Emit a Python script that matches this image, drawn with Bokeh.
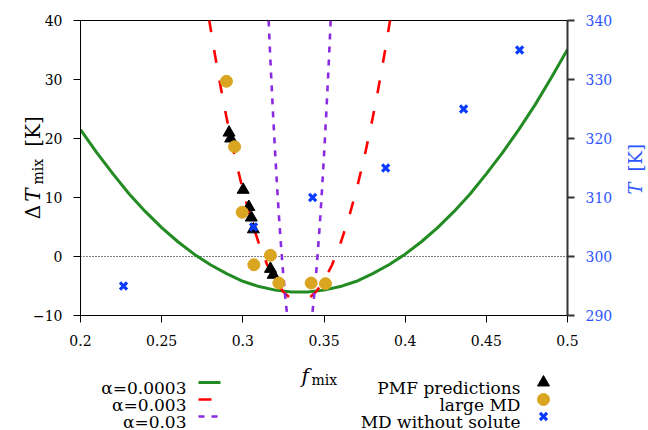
from math import pi
from bokeh.plotting import figure
from bokeh.models import Range1d, LinearAxis, Span, FixedTicker, NumeralTickFormatter
from bokeh.layouts import column, row
from bokeh.embed import file_html
from bokeh.resources import INLINE
from bokeh.core.properties import value

# ---------------- data ----------------
x_ticks = [0.2, 0.25, 0.3, 0.35, 0.4, 0.45, 0.5]
y_ticks = [-10, 0, 10, 20, 30, 40]
t_ticks = [290, 300, 310, 320, 330, 340]

# alpha = 0.0003 (green, solid)
f_a1 = [0.20, 0.21, 0.22, 0.23, 0.24, 0.25, 0.26, 0.27, 0.28, 0.29, 0.30, 0.31, 0.32, 0.33,
        0.34, 0.35, 0.36, 0.37, 0.38, 0.39, 0.40, 0.41, 0.42, 0.43, 0.44, 0.45, 0.46, 0.47,
        0.48, 0.49, 0.50]
dT_a1 = [21.5, 17.6, 14.0, 10.6, 7.6, 4.9, 2.5, 0.4, -1.4, -2.9, -4.2, -5.1, -5.7, -6.0,
         -6.0, -5.7, -5.1, -4.2, -2.9, -1.4, 0.4, 2.5, 4.9, 7.6, 10.6, 14.0, 17.6, 21.5,
         25.7, 30.3, 35.1]

# alpha = 0.003 (red, dashed): two branches, each read from the top down
f_a2_left = [0.2792, 0.2820, 0.2850, 0.2875, 0.2900, 0.2950, 0.3000, 0.3050, 0.3100,
             0.3150, 0.3200, 0.3250, 0.3290]
dT_a2_left = [40.2, 35.5, 30.8, 27.0, 23.5, 17.0, 11.3, 6.3, 2.1,
              -1.4, -4.1, -6.0, -7.0]
f_a2_right = [0.3908, 0.3880, 0.3850, 0.3825, 0.3800, 0.3750, 0.3700, 0.3650, 0.3600,
              0.3550, 0.3500, 0.3450, 0.3410]
dT_a2_right = [40.2, 35.5, 30.8, 27.0, 23.5, 17.0, 11.3, 6.3, 2.1,
               -1.4, -4.1, -6.0, -7.0]

# alpha = 0.03 (purple, short dashes): two branches, top to bottom
f_a3_left = [0.3159, 0.3165, 0.3175, 0.3187, 0.3200, 0.3212, 0.3225, 0.3237, 0.3250,
             0.3262, 0.3273]
dT_a3_left = [40.0, 36.2, 30.3, 23.7, 17.1, 11.4, 5.8, 1.2, -3.4, -7.0, -10.0]
f_a3_right = [0.3541, 0.3535, 0.3525, 0.3513, 0.3500, 0.3488, 0.3475, 0.3463, 0.3450,
              0.3438, 0.3427]
dT_a3_right = [40.0, 36.2, 30.3, 23.7, 17.1, 11.4, 5.8, 1.2, -3.4, -7.0, -10.0]

# PMF predictions (black triangles)
f_pmf = [0.2915, 0.2925, 0.3002, 0.3037, 0.3052, 0.3065, 0.3170, 0.3187]
dT_pmf = [21.0, 20.0, 11.3, 8.4, 6.6, 4.6, -2.1, -3.1]

# large MD (goldenrod circles)
f_md = [0.2899, 0.2949, 0.2996, 0.3068, 0.3170, 0.3222, 0.3421, 0.3509]
dT_md = [29.7, 18.6, 7.5, -1.4, 0.2, -4.5, -4.5, -4.6]

# MD without solute (blue crosses, right axis T)
f_ns = [0.2265, 0.3066, 0.3430, 0.3880, 0.4360, 0.4705]
T_ns = [295, 305, 310, 315, 325, 335]

line_labels = ["\u03b1=0.0003", "\u03b1=0.003", "\u03b1=0.03"]
marker_labels = ["PMF predictions", "large MD", "MD without solute"]

# ---------------- styles ----------------
FONT = "DejaVu Serif"
GREEN = "#228b22"
RED = "#ff0000"
PURPLE = "#8a2be2"
GOLD = "#daa520"
BLUE = "#0a3cff"
BLUE_TXT = "#2e55ff"

W = 648
H_TOP = 360          # height of the plot row
H_LEG = 70           # height of the legend strip
B_TOP, B_BOT = 20, 45
W_L, W_R = 50, 33    # transparent strips laid over the plot borders for the axis titles

p = figure(width=W, height=H_TOP, x_range=Range1d(0.2, 0.5), y_range=Range1d(-10, 40),
           output_backend="svg", toolbar_location=None,
           min_border_left=80, min_border_right=81, min_border_top=B_TOP,
           min_border_bottom=B_BOT)
p.frame_align = False
p.extra_y_ranges = {"T": Range1d(290, 340)}
p.grid.visible = False
p.outline_line_color = "black"
p.outline_line_width = 1


def style_axis(ax, standoff, color="black", label_color="black", width=1):
    ax.axis_line_color = color
    ax.axis_line_width = width
    ax.major_tick_line_color = color
    ax.major_tick_line_width = width
    ax.major_tick_out = 7
    ax.major_tick_in = 0
    ax.minor_tick_line_color = None
    ax.major_label_text_font = FONT
    ax.major_label_text_font_size = "14px"
    ax.major_label_text_color = label_color
    ax.major_label_standoff = standoff


xa = p.xaxis[0]
xa.ticker = FixedTicker(ticks=x_ticks)
xa.formatter = NumeralTickFormatter(format="0.[00]")
style_axis(xa, 12)
ya = p.yaxis[0]
ya.ticker = FixedTicker(ticks=y_ticks)
style_axis(ya, 11)
ra = LinearAxis(y_range_name="T", ticker=FixedTicker(ticks=t_ticks))
style_axis(ra, 11, color="#333333", label_color=BLUE_TXT, width=2)
p.add_layout(ra, "right")

p.add_layout(Span(location=0, dimension="width", line_color="black", line_width=1,
                  line_dash="1 2", level="underlay"))

p.line(f_a1, dT_a1, line_color=GREEN, line_width=3)
for fx, fy in ((f_a2_left, dT_a2_left), (f_a2_right, dT_a2_right)):
    p.line(fx, fy, line_color=RED, line_width=2.6, line_dash="13 18")
for fx, fy in ((f_a3_left, dT_a3_left), (f_a3_right, dT_a3_right)):
    p.line(fx, fy, line_color=PURPLE, line_width=2.6, line_dash="6 7")

p.scatter(f_pmf, dT_pmf, marker="triangle", size=12, fill_color="black", line_color="black")
p.scatter(f_md, dT_md, marker="circle", size=12, fill_color=GOLD, line_color=GOLD)
p.scatter(f_ns, T_ns, marker="x", size=10, line_color=BLUE, line_width=3.2, y_range_name="T")


def strip(width, height, x_range, y_range, top=0, bottom=0):
    f = figure(width=width, height=height, x_range=x_range, y_range=y_range,
               output_backend="svg", toolbar_location=None, min_border=0,
               min_border_top=top, min_border_bottom=bottom,
               x_axis_type=None, y_axis_type=None, outline_line_color=None,
               background_fill_color=None, border_fill_color=None)
    f.grid.visible = False
    f.frame_align = False
    return f


def rtext(fig, x, y, txt, size, style="normal", color="black", baseline="alphabetic"):
    fig.text(x=[x], y=[y], text=[txt], angle=pi / 2, text_font=value(FONT),
             text_font_size=size, text_font_style=style, text_color=color,
             text_align="left", text_baseline=baseline)


# left title "ΔT_mix [K]" : x in page pixels, y in the plot's ΔT units
L = strip(W_L, H_TOP, Range1d(0, W_L), Range1d(-10, 40), B_TOP, B_BOT)
rtext(L, 32, 6.3, "\u0394", "20px")
rtext(L, 32, 9.3, "T", "20px", "italic")
rtext(L, 37, 12.2, "mix", "14px")
rtext(L, 32, 18.6, "[K]", "20px")
L.margin = (0, 0, 0, -W)

# right title "T [K]" : x in pixels from 615, y in the T units
R = strip(W_R, H_TOP, Range1d(0, W_R), Range1d(290, 340), B_TOP, B_BOT)
rtext(R, 20, 310.5, "T", "18px", "italic", BLUE_TXT, "middle")
rtext(R, 20, 314.4, "[K]", "18px", "normal", BLUE_TXT, "middle")
R.margin = (0, 0, 0, W - W_L - W_R)

# ---------------- legend / x-title strip (page pixel coords, y down) ----------------
q = strip(W, H_LEG, Range1d(0, W), Range1d(H_LEG, 0))
q.background_fill_color = "white"
q.border_fill_color = "white"

q.text(x=[301], y=[15], text=["f"], text_font=value(FONT), text_font_size="20px",
       text_font_style="italic", text_baseline="alphabetic", text_align="left")
q.text(x=[311], y=[19], text=["mix"], text_font=value(FONT), text_font_size="14px",
       text_baseline="alphabetic", text_align="left")

rows = [27, 44, 61]
q.text(x=[186] * 3, y=rows, text=line_labels, text_font=value(FONT), text_font_size="17px",
       text_align="right", text_baseline="alphabetic")
q.text(x=[520] * 3, y=rows, text=marker_labels, text_font=value(FONT), text_font_size="17px",
       text_align="right", text_baseline="alphabetic")
mid = [r - 5 for r in rows]
q.line([198, 220], [mid[0]] * 2, line_color=GREEN, line_width=3)
q.line([198, 220], [mid[1]] * 2, line_color=RED, line_width=2.6, line_dash="13 18")
q.line([198, 220], [mid[2]] * 2, line_color=PURPLE, line_width=2.6, line_dash="6 7")
q.scatter([543], [mid[0]], marker="triangle", size=12, fill_color="black", line_color="black")
q.scatter([543], [mid[1]], marker="circle", size=12, fill_color=GOLD, line_color=GOLD)
q.scatter([543], [mid[2]], marker="x", size=10, line_color=BLUE, line_width=3.2)

layout = column(row(p, L, R, spacing=0), q, spacing=0)
open("out.html", "w").write(file_html(layout, INLINE))
